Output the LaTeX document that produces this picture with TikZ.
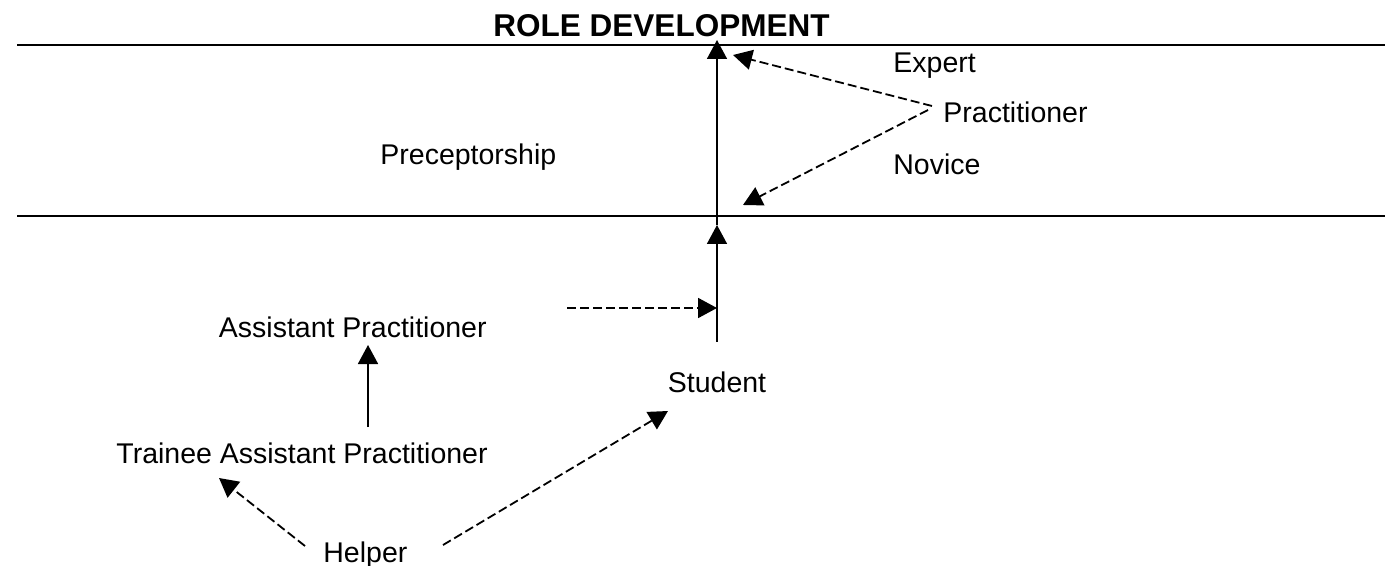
\documentclass[tikz,border=0pt]{standalone}
\usepackage{fontspec}
\setmainfont{Liberation Sans}
\usetikzlibrary{arrows.meta,positioning}

\begin{document}
\begin{tikzpicture}[x=0.5pt, y=-0.5pt]
      \tikzstyle{lbl}=[inner sep=0pt, font=\fontsize{14.25}{17}\selectfont]
      \tikzstyle{heading}=[inner sep=0pt, font=\fontsize{15.75}{19}\selectfont\bfseries]
      \tikzstyle{connect}=[-{Triangle[length=9.5pt, width=10pt]}, line width=0.8pt]
      \tikzstyle{dashconnect}=[connect, line width=0.9pt, dash pattern=on 4.5pt off 2pt]
      \tikzstyle{rule}=[line width=1pt]

      \useasboundingbox (0,0) rectangle (1385,566);

      % band lines
      \coordinate (ruleTL) at (17,45.5);
      \coordinate (ruleTR) at (1385,45.5);
      \coordinate (ruleBL) at (17,216);
      \coordinate (ruleBR) at (1385,216);
      \draw[rule] (ruleTL) -- (ruleTR);
      \draw[rule] (ruleBL) -- (ruleBR);

      \node[heading, anchor=base] (title) at (661.5,37) {ROLE DEVELOPMENT};
      \node[lbl, anchor=base west] (expert) at (893,73) {Expert};
      \node[lbl, anchor=base west] (practitioner) at (943,123) {Practitioner};
      \node[lbl, anchor=base west] (novice) at (893,175) {Novice};
      \node[lbl, anchor=base west] (precept) at (380,165) {Preceptorship};
      \node[lbl, anchor=base east] (assistant) at (487,337) {Assistant Practitioner};
      \node[lbl, anchor=base east] (trainee) at (488,463) {Trainee Assistant Practitioner};
      \node[lbl, anchor=base] (student) at (717,393) {Student};
      \node[lbl, anchor=base west] (helper) at (323,562) {Helper};

      % arrow ends
      \coordinate (top) at (717,40);
      \coordinate (mid) at (717,225);
      \coordinate (stem) at (717,342);
      \coordinate (join) at (717,308);
      \coordinate (joinstart) at (567,308);
      \coordinate (expertend) at (733,55);
      \coordinate (noviceend) at (743,205);
      \coordinate (pracA) at (932,106);
      \coordinate (pracB) at (928,110);
      \coordinate (traineetop) at (368,427);
      \coordinate (assistantend) at (368,345);
      \coordinate (helperL) at (305,546);
      \coordinate (helperR) at (443,545);
      \coordinate (traineeend) at (219,478);
      \coordinate (studentend) at (668,411);

      \draw[connect] (stem) -- (mid);
      \draw[connect] (mid) -- (top);
      \draw[dashconnect] (joinstart) -- (join);
      \draw[dashconnect] (pracA) -- (expertend);
      \draw[dashconnect] (pracB) -- (noviceend);
      \draw[connect] (traineetop) -- (assistantend);
      \draw[dashconnect] (helperL) -- (traineeend);
      \draw[dashconnect] (helperR) -- (studentend);
\end{tikzpicture}
\end{document}
